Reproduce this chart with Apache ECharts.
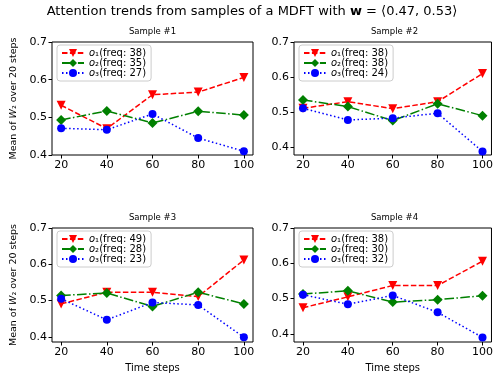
<!DOCTYPE html>
<html>
<head>
<meta charset="utf-8">
<script src="https://cdn.jsdelivr.net/npm/echarts@6/dist/echarts.min.js"></script>
<style>
  html, body { margin: 0; padding: 0; background: #fff; }
  #chart { width: 496px; height: 374px; }
</style>
</head>
<body>
<div id="chart"></div>
<script>
// time steps on the x axis
const steps = [20, 40, 60, 80, 100]
const xTicks = [20, 40, 60, 80, 100]
const yTicks = [0.4, 0.5, 0.6, 0.7]

// sample #1
const s1o1 = [0.532, 0.470, 0.560, 0.567, 0.606]
const s1o2 = [0.493, 0.517, 0.485, 0.516, 0.506]
const s1o3 = [0.471, 0.467, 0.509, 0.445, 0.410]
const s1freq = [38, 35, 27]

// sample #2
const s2o1 = [0.511, 0.530, 0.510, 0.530, 0.610]
const s2o2 = [0.535, 0.516, 0.476, 0.524, 0.490]
const s2o3 = [0.511, 0.478, 0.483, 0.497, 0.388]
const s2freq = [38, 38, 24]

// sample #3
const s3o1 = [0.491, 0.523, 0.523, 0.511, 0.612]
const s3o2 = [0.514, 0.521, 0.484, 0.523, 0.491]
const s3o3 = [0.505, 0.447, 0.495, 0.488, 0.399]
const s3freq = [49, 28, 23]

// sample #4
const s4o1 = [0.474, 0.505, 0.537, 0.537, 0.606]
const s4o2 = [0.513, 0.522, 0.490, 0.497, 0.508]
const s4o3 = [0.511, 0.484, 0.509, 0.461, 0.390]
const s4freq = [38, 30, 32]

const samples = [
  { title: 'Sample #1', lines: [s1o1, s1o2, s1o3], freq: s1freq, ymin: 0.4 },
  { title: 'Sample #2', lines: [s2o1, s2o2, s2o3], freq: s2freq, ymin: 0.378 },
  { title: 'Sample #3', lines: [s3o1, s3o2, s3o3], freq: s3freq, ymin: 0.386 },
  { title: 'Sample #4', lines: [s4o1, s4o2, s4o3], freq: s4freq, ymin: 0.377 }
]

const font = 'DejaVu Sans'
const boxes = [
  { left: 52, top: 42, width: 201, height: 113 },
  { left: 294, top: 42, width: 201, height: 113 },
  { left: 52, top: 228, width: 201, height: 114 },
  { left: 294, top: 228, width: 201, height: 114 }
]
const styles = [
  { color: '#ff0000', symbol: 'triangle', rotate: 180, size: 9, dash: [5.5, 2.4] },
  { color: '#008000', symbol: 'diamond', rotate: 0, size: 10, dash: [9.6, 2.4, 1.5, 2.4] },
  { color: '#0000ff', symbol: 'circle', rotate: 0, size: 8, dash: [1.5, 2.5] }
]
const subs = ['₁', '₂', '₃']

const chart = echarts.init(document.getElementById('chart'), null, { renderer: 'canvas' })

const grid = [], xAxis = [], yAxis = [], series = [], legend = []
const title = [{
  text: '{n|Attention trends from samples of a MDFT with }{b|w}{n| = ⟨0.47, 0.53⟩}',
  left: 252, top: 5, textAlign: 'center', padding: 0,
  textStyle: {
    fontWeight: 'normal',
    rich: {
      n: { fontFamily: font, fontSize: 13, fontWeight: 'normal', color: '#000' },
      b: { fontFamily: font, fontSize: 13, fontWeight: 'bold', color: '#000' }
    }
  }
}]

samples.forEach((s, i) => {
  const b = boxes[i]
  grid.push({ ...b, show: true, borderColor: '#000', borderWidth: 1, backgroundColor: 'transparent' })
  title.push({
    text: s.title, left: b.left + b.width / 2, top: b.top - 15, textAlign: 'center', padding: 0,
    textStyle: { fontFamily: font, fontSize: 8.5, fontWeight: 'normal', color: '#000' }
  })
  xAxis.push({
    type: 'value', gridIndex: i, min: 16, max: 104,
    name: i >= 2 ? 'Time steps' : '', nameLocation: 'middle', nameGap: 21,
    nameTextStyle: { fontFamily: font, fontSize: 10, color: '#000' },
    axisLine: { show: false },
    splitLine: { show: false },
    axisTick: { show: true, customValues: xTicks, length: 3.5, lineStyle: { color: '#000' } },
    axisLabel: { customValues: xTicks, fontFamily: font, fontSize: 11, color: '#000', margin: 5, showMaxLabel: true }
  })
  yAxis.push({
    type: 'value', gridIndex: i, min: s.ymin, max: 0.7,
    name: i % 2 === 0 ? 'Mean of {i|W}₂ over 20 steps' : '', nameLocation: 'middle', nameGap: 33,
    nameTextStyle: {
      fontFamily: font, fontSize: 9.5, color: '#000',
      rich: { i: { fontFamily: font, fontSize: 9.5, fontStyle: 'italic', color: '#000' } }
    },
    axisLine: { show: false },
    splitLine: { show: false },
    axisTick: { show: true, customValues: yTicks, length: 3.5, lineStyle: { color: '#000' } },
    axisLabel: {
      customValues: yTicks, fontFamily: font, fontSize: 11, color: '#000', margin: 5,
      formatter: v => v.toFixed(1)
    }
  })
  const names = []
  s.lines.forEach((vals, k) => {
    const st = styles[k]
    const name = 's' + (i + 1) + 'o' + (k + 1)
    names.push(name)
    series.push({
      name, type: 'line', xAxisIndex: i, yAxisIndex: i,
      data: steps.map((x, j) => [x, vals[j]]),
      symbol: st.symbol, symbolRotate: st.rotate, symbolSize: st.size,
      itemStyle: { color: st.color },
      lineStyle: { color: st.color, width: 1.5, type: st.dash },
      animation: false
    })
  })
  legend.push({
    data: names, orient: 'vertical', left: b.left + 5, top: b.top + 3,
    itemWidth: 22, itemHeight: 10, itemGap: 0,
    padding: [3, 5, 3, 4], borderColor: '#cccccc', borderWidth: 1, borderRadius: 3,
    backgroundColor: 'rgba(255,255,255,0.8)',
    selectedMode: false,
    formatter: n => {
      const k = +n.slice(-1) - 1
      return '{i|o}' + subs[k] + '(freq: ' + s.freq[k] + ')'
    },
    textStyle: {
      fontFamily: font, fontSize: 10, color: '#000',
      rich: { i: { fontFamily: font, fontSize: 10, fontStyle: 'italic', color: '#000' } }
    }
  })
})

chart.setOption({ animation: false, title, grid, xAxis, yAxis, legend, series })
</script>
</body>
</html>
